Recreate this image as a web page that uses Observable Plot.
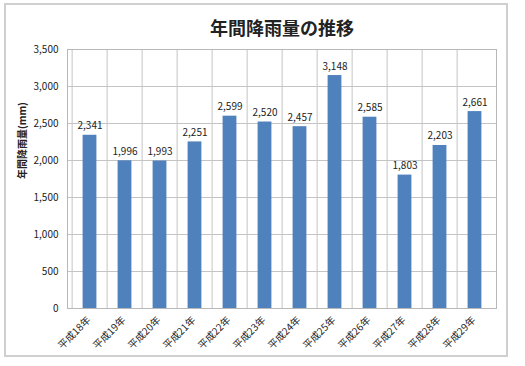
<!DOCTYPE html>
<html><head><meta charset="utf-8">
<script src="https://cdn.jsdelivr.net/npm/d3@7"></script>
<script src="https://cdn.jsdelivr.net/npm/@observablehq/plot@0.6"></script>
<style>
body{margin:0;background:#fff;}
#wrap{position:relative;width:525px;height:366px;}
#border{position:absolute;left:4px;top:3px;width:504px;height:354px;border:2px solid #cfcfcf;box-sizing:border-box;}
#chart{position:absolute;left:0;top:0;}
</style></head>
<body><div id="wrap"><div id="border"></div><div id="chart"></div></div>
<script>
const title = "年間降雨量の推移";
const yLabel = "年間降雨量(mm)";
const years = ["平成18年","平成19年","平成20年","平成21年","平成22年","平成23年","平成24年","平成25年","平成26年","平成27年","平成28年","平成29年"];
const rainfall = [2341,1996,1993,2251,2599,2520,2457,3148,2585,1803,2203,2661];
const yTicks = [0,500,1000,1500,2000,2500,3000,3500];

const data = years.map((y,i)=>({year:y, value:rainfall[i]}));
const W=525,H=366, mL=67, mR=29, mT=49, mB=58;
const step=(W-mL-mR)/years.length;
const fmt=d3.format(",");
const font="'Noto Sans CJK JP', 'Noto Sans', sans-serif";

const chart = Plot.plot({
  width:W, height:H, marginLeft:mL, marginRight:mR, marginTop:mT, marginBottom:mB,
  style:{fontFamily:font, fontSize:"10px", color:"#222", background:"transparent"},
  x:{domain:years, padding:0, label:null},
  y:{domain:[0,3500], label:null},
  marks:[
    Plot.gridY(yTicks,{stroke:"#c4c4c4", strokeOpacity:1}),
    Plot.ruleX(years,{x:d=>d, dx:-step/2, stroke:"#c4c4c4"}),
    Plot.frame({stroke:"#b8b8b8"}),
    Plot.barY(data,{x:"year", y:"value", fill:"#4F81BD", insetLeft:10.6, insetRight:10.6}),
    Plot.axisY(yTicks,{tickFormat:fmt, tickSize:0, tickPadding:9, fontSize:10, label:null}),
    Plot.axisX({tickSize:0, tickPadding:8, tickRotate:-45, dx:-1, dy:2, fontSize:10, label:null}),
    Plot.text(data,{x:"year", y:"value", text:d=>fmt(d.value), lineAnchor:"bottom", dy:-6, fontSize:10, fill:"#222"}),
    Plot.text([yLabel],{frameAnchor:"left", dx:-45, rotate:-90, fontSize:10, fontWeight:"bold", fill:"#222"}),
    Plot.text([title],{frameAnchor:"top", dy:-27, fontSize:18, fontWeight:"bold", fill:"#222"})
  ]
});
document.getElementById("chart").appendChild(chart);
</script></body></html>
